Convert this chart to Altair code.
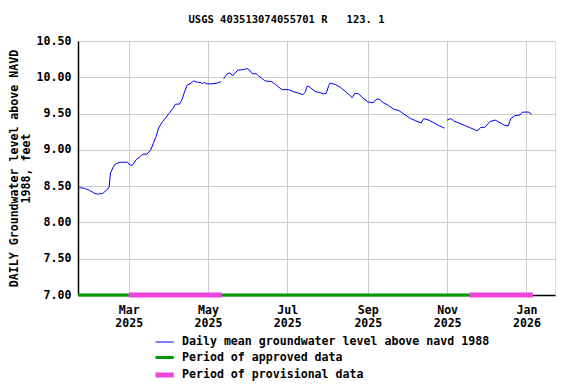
import altair as alt
import pandas as pd

FONT = "DejaVu Sans Mono"

# ---- daily mean groundwater level (feet above NAVD 1988) ----
dates = [
    "2025-01-22", "2025-01-26", "2025-01-30", "2025-02-03", "2025-02-05", "2025-02-09",
    "2025-02-13", "2025-02-14", "2025-02-15", "2025-02-17", "2025-02-19", "2025-02-23",
    "2025-02-28", "2025-03-02", "2025-03-04", "2025-03-07", "2025-03-10", "2025-03-12",
    "2025-03-15", "2025-03-18", "2025-03-20", "2025-03-22", "2025-03-24", "2025-03-27",
    "2025-03-29", "2025-04-01", "2025-04-04", "2025-04-06", "2025-04-09", "2025-04-11",
    "2025-04-13", "2025-04-15", "2025-04-18", "2025-04-20", "2025-04-23", "2025-04-25",
    "2025-04-27", "2025-04-28", "2025-04-30", "2025-05-04", "2025-05-08", "2025-05-11",
    "2025-05-13", "2025-05-16", "2025-05-18", "2025-05-20", "2025-05-24", "2025-05-26",
    "2025-05-29", "2025-05-31", "2025-06-02", "2025-06-04", "2025-06-07", "2025-06-09",
    "2025-06-11", "2025-06-14", "2025-06-19", "2025-06-22", "2025-06-24", "2025-06-27",
    "2025-07-02", "2025-07-06", "2025-07-10", "2025-07-13", "2025-07-15", "2025-07-16",
    "2025-07-17", "2025-07-20", "2025-07-23", "2025-07-26", "2025-07-29", "2025-07-31",
    "2025-08-02", "2025-08-03", "2025-08-07", "2025-08-11", "2025-08-15", "2025-08-17",
    "2025-08-20", "2025-08-22", "2025-08-25", "2025-08-28", "2025-09-01", "2025-09-05",
    "2025-09-08", "2025-09-10", "2025-09-12", "2025-09-17", "2025-09-21", "2025-09-25",
    "2025-09-29", "2025-10-04", "2025-10-08", "2025-10-12", "2025-10-14", "2025-10-18",
    "2025-10-22", "2025-10-26", "2025-10-30",
    "2025-11-01", "2025-11-04", "2025-11-06", "2025-11-10", "2025-11-14", "2025-11-18",
    "2025-11-22", "2025-11-24", "2025-11-27", "2025-11-30", "2025-12-04", "2025-12-08",
    "2025-12-12", "2025-12-15", "2025-12-18", "2025-12-20", "2025-12-23", "2025-12-27",
    "2025-12-29", "2026-01-03", "2026-01-05",
]
levels = [
    8.48, 8.47, 8.44, 8.40, 8.39, 8.40,
    8.46, 8.49, 8.68, 8.76, 8.81, 8.83,
    8.83, 8.79, 8.79, 8.87, 8.91, 8.94,
    8.94, 9.00, 9.09, 9.18, 9.30, 9.39,
    9.43, 9.50, 9.57, 9.63, 9.63, 9.69,
    9.80, 9.89, 9.92, 9.95, 9.93, 9.93,
    9.91, 9.93, 9.91, 9.91, 9.92, 9.94,
    9.98, 10.05, 10.06, 10.02, 10.10, 10.10,
    10.11, 10.12, 10.10, 10.05, 10.05, 10.02,
    9.99, 9.95, 9.94, 9.90, 9.87, 9.83,
    9.83, 9.80, 9.78, 9.76, 9.80, 9.87,
    9.88, 9.84, 9.80, 9.79, 9.77, 9.78,
    9.89, 9.92, 9.90, 9.86, 9.80, 9.77,
    9.72, 9.78, 9.77, 9.72, 9.66, 9.65,
    9.70, 9.70, 9.66, 9.61, 9.56, 9.54,
    9.49, 9.43, 9.40, 9.37, 9.43, 9.41,
    9.37, 9.33, 9.30,
    9.41, 9.43, 9.40, 9.37, 9.34, 9.31,
    9.28, 9.26, 9.31, 9.31, 9.39, 9.41,
    9.37, 9.34, 9.33, 9.43, 9.47, 9.48,
    9.52, 9.52, 9.49,
]
# record gaps split the line into pieces (first date of each new piece)
gap_starts = ["2025-05-13", "2025-11-01"]
segments = [1 + sum(d >= g for g in gap_starts) for d in dates]

# ---- data-approval periods ----
period_start = ["2025-01-21", "2025-03-01", "2025-05-12", "2025-11-18"]
period_end = ["2025-03-01", "2025-05-12", "2025-11-18", "2026-01-06"]
period_kind = ["Period of approved data", "Period of provisional data",
               "Period of approved data", "Period of provisional data"]

series_labels = ["Daily mean groundwater level above navd 1988",
                 "Period of approved data", "Period of provisional data"]
series_colors = ["#0000ff", "#009900", "#ee44dd"]
series_widths = [1, 5, 5]

x_domain = ["2025-01-21", "2026-01-23"]
x_ticks = ["2025-03-01", "2025-05-01", "2025-07-01", "2025-09-01", "2025-11-01", "2026-01-01"]
y_ticks = [7.0, 7.5, 8.0, 8.5, 9.0, 9.5, 10.0, 10.5]

line_df = pd.DataFrame({"date": dates, "level": levels, "seg": segments,
                        "series": series_labels[0]})
per_df = pd.DataFrame({"start": period_start, "end": period_end,
                       "series": period_kind, "level": 7.0})

legend = alt.Legend(
    title=None, orient="none", legendX=77.6, legendY=294,
    symbolType="M-1.4,0H1.4", symbolSize=169,
    labelFont=FONT, labelFontSize=11.6, labelFontWeight="bold", labelColor="black",
    labelOffset=8.4, rowPadding=1.5, labelLimit=400,
)
color = alt.Color("series:N", scale=alt.Scale(domain=series_labels, range=series_colors),
                  legend=legend)
width = alt.StrokeWidth("series:N", scale=alt.Scale(domain=series_labels, range=series_widths),
                        legend=legend)

x_axis = alt.Axis(
    title=None, values=x_ticks, ticks=False, labelPadding=9,
    labelExpr="[utcFormat(datum.value, '%b'), utcFormat(datum.value, '%Y')]",
    labelFont=FONT, labelFontSize=11.6, labelFontWeight="bold", labelColor="black",
    labelLineHeight=13, labelAlign="center", labelOverlap=False,
    grid=True, gridColor="#cccccc", domainColor="black", domainWidth=1.5,
)
y_axis = alt.Axis(
    title=["DAILY Groundwater level above NAVD", "1988, feet"],
    titleFont=FONT, titleFontSize=11.6, titleFontWeight="bold", titleColor="black",
    titlePadding=5, titleLineHeight=12, titleLimit=400,
    values=y_ticks, format=".2f", ticks=False, labelPadding=7, labelOverlap=False,
    labelFont=FONT, labelFontSize=11.6, labelFontWeight="bold", labelColor="black",
    grid=True, gridColor="#cccccc", domainColor="black", domainWidth=1.5,
)

x_scale = alt.Scale(type="utc", domain=x_domain)
y_scale = alt.Scale(domain=[7.0, 10.5], nice=False, zero=False)

line = alt.Chart(line_df).mark_line().encode(
    x=alt.X("date:T", scale=x_scale, axis=x_axis),
    y=alt.Y("level:Q", scale=y_scale, axis=y_axis),
    color=color, strokeWidth=width, detail="seg:N",
)
periods = alt.Chart(per_df).mark_rule(strokeCap="butt").encode(
    x=alt.X("start:T"), x2="end:T",
    y=alt.Y("level:Q", scale=y_scale, axis=y_axis),
    color=color, strokeWidth=width,
)

chart = alt.layer(line, periods).properties(
    width=477, height=254,
    title=alt.TitleParams(
        text="USGS 403513074055701 R\u00a0\u00a0\u00a0123. 1",
        font=FONT, fontSize=10.5, fontWeight="bold", color="black",
        anchor="middle", dx=-30, offset=10,
    ),
    padding={"left": 70, "top": 33, "right": 5, "bottom": 86},
    autosize=alt.AutoSizeParams(type="none"),
).configure_view(stroke="black", strokeWidth=1.5).configure(background="white")

chart.save("out.html", embed_options={"renderer": "svg", "actions": False})
